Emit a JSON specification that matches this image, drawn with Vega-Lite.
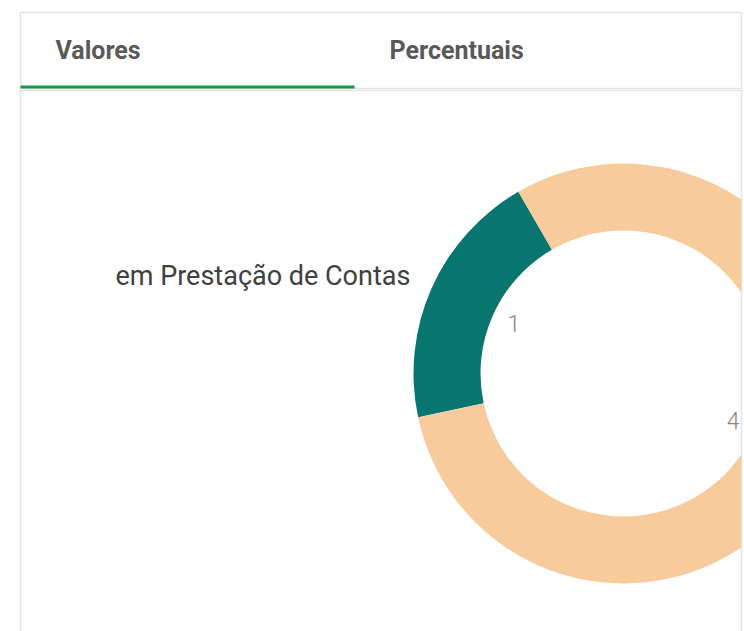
{
  "$schema": "https://vega.github.io/schema/vega-lite/v6.json",
  "background": "white",
  "padding": {"left": 19.5, "top": 11.5, "right": 0, "bottom": 0},
  "spacing": 0,
  "config": {"view": {"stroke": "#e4e4e4", "strokeWidth": 1.5}, "font": "Roboto"},
  "datasets": {
    "abas": [
      {"aba": "Valores", "ativa": 1},
      {"aba": "Percentuais", "ativa": 0}
    ],
    "fatias": [
      {"situacao": "em Prestação de Contas", "quantidade": 1},
      {"situacao": "Outras situações", "quantidade": 4}
    ]
  },
  "vconcat": [
    {
      "width": 721,
      "height": 76,
      "data": {"name": "abas"},
      "layer": [
        {
          "mark": {"type": "bar", "color": "#169b4d"},
          "encoding": {
            "x": {"field": "aba", "type": "nominal", "sort": null, "scale": {"paddingInner": 0, "paddingOuter": 0.0793, "align": 0}, "axis": null},
            "y": {"field": "ativa", "type": "quantitative", "scale": {"domain": [0, 25]}, "axis": null}
          }
        },
        {
          "mark": {"type": "text", "align": "left", "baseline": "middle", "fontSize": 25, "fontWeight": "bold", "color": "#595959"},
          "encoding": {
            "x": {"field": "aba", "type": "nominal", "sort": null, "bandPosition": 0.105},
            "text": {"field": "aba"}
          }
        }
      ]
    },
    {
      "width": 721,
      "height": 544,
      "data": {"name": "fatias"},
      "layer": [
        {
          "mark": {"type": "arc", "innerRadius": 143, "outerRadius": 210, "clip": true},
          "encoding": {
            "x": {"datum": "rosca", "type": "nominal", "scale": {"type": "point", "domain": ["legenda", "rosca"], "padding": 0.2096, "align": 0.446}, "axis": null},
            "y": {"datum": "rosca", "type": "nominal", "scale": {"type": "point", "domain": ["legenda", "rosca"], "range": [194, 283], "padding": 0}, "axis": null},
            "theta": {"field": "quantidade", "type": "quantitative", "stack": true, "scale": {"range": [4.502, 10.785]}},
            "color": {"field": "situacao", "type": "nominal", "scale": {"domain": ["em Prestação de Contas", "Outras situações"], "range": ["#08756f", "#f8cb9c"]}, "legend": null},
            "order": {"field": "quantidade", "sort": "ascending"}
          }
        },
        {
          "mark": {"type": "text", "radius": 120, "fontSize": 23, "fontWeight": 300, "color": "#858585", "baseline": "middle", "align": "center"},
          "encoding": {
            "x": {"datum": "rosca", "type": "nominal"},
            "y": {"datum": "rosca", "type": "nominal"},
            "theta": {"field": "quantidade", "type": "quantitative", "stack": true},
            "order": {"field": "quantidade", "sort": "ascending"},
            "text": {"field": "quantidade", "type": "quantitative"}
          }
        },
        {
          "transform": [{"filter": "datum.situacao === 'em Prestação de Contas'"}],
          "mark": {"type": "text", "align": "left", "baseline": "alphabetic", "fontSize": 27, "color": "#404040"},
          "encoding": {
            "x": {"datum": "legenda", "type": "nominal"},
            "y": {"datum": "legenda", "type": "nominal"},
            "text": {"field": "situacao"}
          }
        }
      ]
    }
  ]
}
